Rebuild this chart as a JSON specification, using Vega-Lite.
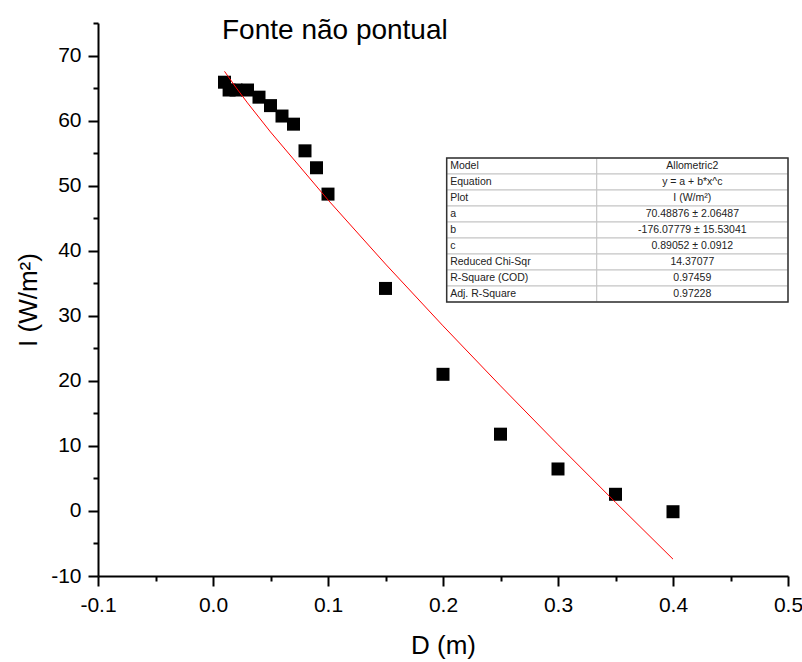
{
  "$schema": "https://vega.github.io/schema/vega-lite/v6.json",
  "width": 690,
  "height": 553,
  "autosize": {"type": "none"},
  "padding": {"left": 98, "top": 23, "right": 14, "bottom": 86},
  "background": "white",
  "config": {"view": {"stroke": null}, "font": "Liberation Sans"},
  "title": {
    "text": "Fonte não pontual",
    "anchor": "start",
    "frame": "group",
    "dx": 124,
    "dy": 40,
    "offset": -15,
    "baseline": "alphabetic",
    "fontSize": 28,
    "fontWeight": "normal",
    "font": "Liberation Sans",
    "color": "black"
  },
  "datasets": {
    "measured": [
      {"D": 0.01, "I": 65.9},
      {"D": 0.014, "I": 64.7},
      {"D": 0.02, "I": 64.7},
      {"D": 0.03, "I": 64.7},
      {"D": 0.04, "I": 63.6},
      {"D": 0.05, "I": 62.3},
      {"D": 0.06, "I": 60.7},
      {"D": 0.07, "I": 59.45},
      {"D": 0.08, "I": 55.35},
      {"D": 0.09, "I": 52.75},
      {"D": 0.1, "I": 48.7},
      {"D": 0.15, "I": 34.2},
      {"D": 0.2, "I": 21.0},
      {"D": 0.25, "I": 11.8},
      {"D": 0.3, "I": 6.45},
      {"D": 0.35, "I": 2.56},
      {"D": 0.4, "I": -0.12}
    ],
    "fit": [
      {"D": 0.01, "I": 67.57},
      {"D": 0.02, "I": 65.08},
      {"D": 0.03, "I": 62.72},
      {"D": 0.05, "I": 58.25},
      {"D": 0.1, "I": 47.81},
      {"D": 0.15, "I": 37.95},
      {"D": 0.2, "I": 28.45},
      {"D": 0.25, "I": 19.22},
      {"D": 0.3, "I": 10.18},
      {"D": 0.35, "I": 1.32},
      {"D": 0.4, "I": -7.41}
    ],
    "table": [
      {"label": "Model", "value": "Allometric2"},
      {"label": "Equation", "value": "y = a + b*x^c"},
      {"label": "Plot", "value": "I (W/m²)"},
      {"label": "a", "value": "70.48876 ± 2.06487"},
      {"label": "b", "value": "-176.07779 ± 15.53041"},
      {"label": "c", "value": "0.89052 ± 0.0912"},
      {"label": "Reduced Chi-Sqr", "value": "14.37077"},
      {"label": "R-Square (COD)", "value": "0.97459"},
      {"label": "Adj. R-Square", "value": "0.97228"}
    ],
    "frame": [{"label": "frame"}]
  },
  "layer": [
    {
      "encoding": {
        "x": {
          "field": "D",
          "type": "quantitative",
          "scale": {"domain": [-0.1, 0.5], "nice": false, "zero": false},
          "axis": {
            "title": "D (m)",
            "values": [-0.1, -0.05, 0, 0.05, 0.1, 0.15, 0.2, 0.25, 0.3, 0.35, 0.4, 0.45, 0.5],
            "labelExpr": "abs(round(datum.value*20)) % 2 == 1 ? '' : replace(format(datum.value, '.1f'), '\u2212', '-')",
            "tickSize": {"condition": {"test": "abs(round(datum.value*20)) % 2 == 1", "value": 5}, "value": 10},
            "tickWidth": 2,
            "tickColor": "black",
            "domainColor": "black",
            "domainWidth": 2,
            "grid": false,
            "labelFontSize": 21,
            "labelColor": "black",
            "labelFont": "Liberation Sans",
            "labelPadding": 8,
            "labelFlush": false,
            "labelOverlap": false,
            "titleFontSize": 26,
            "titleFontWeight": "normal",
            "titleFont": "Liberation Sans",
            "titleColor": "black",
            "titlePadding": 17
          }
        },
        "y": {
          "field": "I",
          "type": "quantitative",
          "scale": {"domain": [-10, 75], "nice": false, "zero": false},
          "axis": {
            "title": "I (W/m²)",
            "values": [-10, -5, 0, 5, 10, 15, 20, 25, 30, 35, 40, 45, 50, 55, 60, 65, 70, 75],
            "labelExpr": "abs(round(datum.value/5)) % 2 == 1 ? '' : '' + datum.value",
            "tickSize": {"condition": {"test": "abs(round(datum.value/5)) % 2 == 1", "value": 5}, "value": 10},
            "tickWidth": 2,
            "tickColor": "black",
            "domainColor": "black",
            "domainWidth": 2,
            "grid": false,
            "labelFontSize": 21,
            "labelColor": "black",
            "labelFont": "Liberation Sans",
            "labelPadding": 7,
            "labelFlush": false,
            "labelOverlap": false,
            "titleFontSize": 26,
            "titleFontWeight": "normal",
            "titleFont": "Liberation Sans",
            "titleColor": "black",
            "titlePadding": 9
          }
        }
      },
      "layer": [
        {
          "data": {"name": "measured"},
          "mark": {"type": "point", "shape": "square", "filled": true, "size": 169, "color": "black", "opacity": 1}
        },
        {
          "data": {"name": "fit"},
          "mark": {"type": "line", "color": "#ff0000", "strokeWidth": 1}
        }
      ]
    },
    {
      "encoding": {
        "y": {
          "field": "label",
          "type": "nominal",
          "scale": {
            "domain": ["Model", "Equation", "Plot", "a", "b", "c", "Reduced Chi-Sqr", "R-Square (COD)", "Adj. R-Square", "frame"],
            "range": [135, 295],
            "paddingInner": 0,
            "paddingOuter": 0
          },
          "axis": null
        }
      },
      "layer": [
        {
          "data": {"name": "table"},
          "mark": {"type": "rect", "fill": "white", "stroke": "#c4c4c4", "strokeWidth": 1},
          "encoding": {"x": {"datum": 0.2032}, "x2": {"datum": 0.3337}}
        },
        {
          "data": {"name": "table"},
          "mark": {"type": "rect", "fill": "white", "stroke": "#c4c4c4", "strokeWidth": 1},
          "encoding": {"x": {"datum": 0.3337}, "x2": {"datum": 0.5}}
        },
        {
          "data": {"name": "frame"},
          "mark": {"type": "rect", "fill": null, "filled": false, "stroke": "#333333", "strokeWidth": 1.5},
          "encoding": {"x": {"datum": 0.2032}, "x2": {"datum": 0.5}, "y": {"datum": "Model", "bandPosition": 0}, "y2": {"datum": "frame", "bandPosition": 0}}
        },
        {
          "data": {"name": "table"},
          "mark": {"type": "text", "align": "left", "baseline": "middle", "fontSize": 10.5, "color": "#222222", "font": "Liberation Sans"},
          "encoding": {"x": {"datum": 0.2062}, "text": {"field": "label"}}
        },
        {
          "data": {"name": "table"},
          "mark": {"type": "text", "align": "center", "baseline": "middle", "fontSize": 10.5, "color": "#222222", "font": "Liberation Sans"},
          "encoding": {"x": {"datum": 0.4168}, "text": {"field": "value"}}
        }
      ]
    }
  ],
  "resolve": {"scale": {"y": "independent"}}
}
